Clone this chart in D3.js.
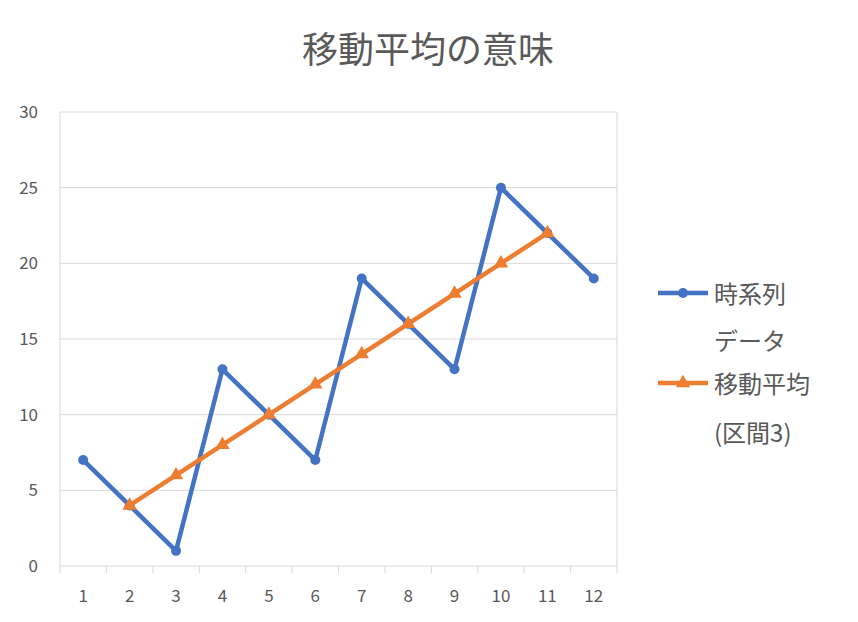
<!DOCTYPE html><html><head><meta charset="utf-8"><script src="https://cdn.jsdelivr.net/npm/d3@7"></script>
<style>body{margin:0;background:#fff}</style></head><body><svg id="c" width="858" height="622"></svg>
<script>
const categories=["1","2","3","4","5","6","7","8","9","10","11","12"];
const seriesRaw=[7,4,1,13,10,7,19,16,13,25,22,19];
const seriesMA=[null,4,6,8,10,12,14,16,18,20,22,null];
const yTicks=[0,5,10,15,20,25,30];
const F="'Noto Sans CJK JP','Noto Sans',sans-serif";
const svg=d3.select("#c");
const L=60,R=617,T=112,B=566;
const x=d3.scaleBand().domain(categories).range([L,R]);
const y=d3.scaleLinear().domain([0,30]).range([B,T]);
const cx=d=>x(d)+x.bandwidth()/2;
svg.append("text").attr("x",428).attr("y",63).attr("text-anchor","middle").attr("font-family",F).attr("font-size",36).attr("fill","#595959").text("移動平均の意味");
svg.append("g").selectAll("line").data(yTicks).join("line").attr("x1",L).attr("x2",R).attr("y1",d=>y(d)).attr("y2",d=>y(d)).attr("stroke","#d9d9d9");
svg.append("line").attr("x1",L).attr("x2",L).attr("y1",T).attr("y2",B).attr("stroke","#d9d9d9");
svg.append("line").attr("x1",R).attr("x2",R).attr("y1",T).attr("y2",B).attr("stroke","#d9d9d9");
const bounds=categories.map(c=>x(c)).concat([R]);
svg.append("g").selectAll("line").data(bounds).join("line").attr("x1",d=>d).attr("x2",d=>d).attr("y1",B).attr("y2",B+7).attr("stroke","#d9d9d9");
svg.append("g").selectAll("text").data(yTicks).join("text").attr("x",38).attr("y",d=>y(d)+6).attr("text-anchor","end").attr("font-family",F).attr("font-size",17).attr("fill","#595959").text(d=>d);
svg.append("g").selectAll("text").data(categories).join("text").attr("x",cx).attr("y",B+36).attr("text-anchor","middle").attr("font-family",F).attr("font-size",17).attr("fill","#595959").text(d=>d);
const blue="#4472C4",orange="#ED7D31";
const line=d3.line().defined(d=>d.v!=null).x(d=>cx(d.c)).y(d=>y(d.v));
const raw=categories.map((c,i)=>({c,v:seriesRaw[i]}));
const ma=categories.map((c,i)=>({c,v:seriesMA[i]}));
svg.append("path").datum(raw).attr("d",line).attr("fill","none").attr("stroke",blue).attr("stroke-width",4.5).attr("stroke-linejoin","round");
svg.append("g").selectAll("circle").data(raw).join("circle").attr("cx",d=>cx(d.c)).attr("cy",d=>y(d.v)).attr("r",5).attr("fill",blue);
svg.append("path").datum(ma).attr("d",line).attr("fill","none").attr("stroke",orange).attr("stroke-width",4.5).attr("stroke-linejoin","round");
const tri=d3.symbol().type(d3.symbolTriangle).size(90);
svg.append("g").selectAll("path").data(ma.filter(d=>d.v!=null)).join("path").attr("d",tri).attr("transform",d=>`translate(${cx(d.c)},${y(d.v)})`).attr("fill",orange);
const lg=svg.append("g");
lg.append("line").attr("x1",658).attr("x2",708).attr("y1",293).attr("y2",293).attr("stroke",blue).attr("stroke-width",4.5);
lg.append("circle").attr("cx",683).attr("cy",293).attr("r",5).attr("fill",blue);
lg.append("line").attr("x1",658).attr("x2",708).attr("y1",383).attr("y2",383).attr("stroke",orange).attr("stroke-width",4.5);
lg.append("path").attr("d",tri).attr("transform","translate(683,383)").attr("fill",orange);
const lt=[["時系列",303],["データ",350],["移動平均",393],["(区間3)",442]];
lg.selectAll("text").data(lt).join("text").attr("x",714).attr("y",d=>d[1]).attr("font-family",F).attr("font-size",24).attr("fill","#595959").text(d=>d[0]);
</script></body></html>
